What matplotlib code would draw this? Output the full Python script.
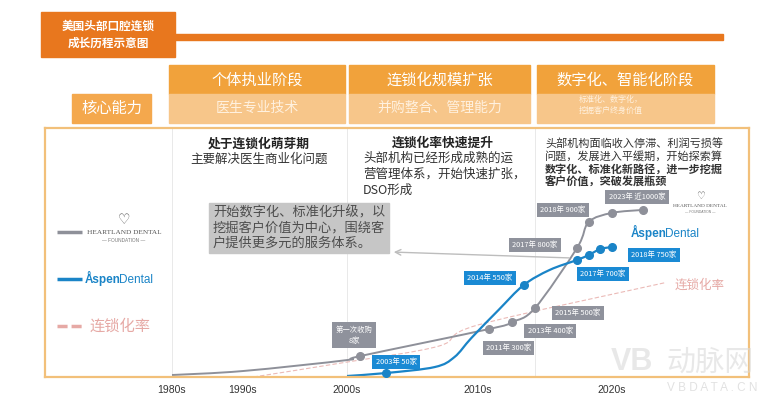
import numpy as np
import matplotlib
matplotlib.use('Agg')
import matplotlib.pyplot as plt
from matplotlib.path import Path
from matplotlib.patches import PathPatch, Rectangle

CJK = ['Noto Sans CJK SC', 'DejaVu Sans']
LATIN = ['Liberation Sans', 'DejaVu Sans']
plt.rcParams['font.family'] = CJK

# ---- data ---------------------------------------------------------------
decades = [1980, 1990, 2000, 2010, 2020]
decade_labels = ['1980s', '1990s', '2000s', '2010s', '2020s']

# the timeline in the picture is schematic: decades are not evenly spaced
scale_years = [1962, 1980, 1990, 2000, 2010, 2015, 2017, 2020, 2023, 2033]
scale_pos = [45, 172, 243, 347, 478, 535, 577, 612, 643, 749]

# Heartland Dental (grey) -- level = schematic height (0-100)
hd_years = [1980, 1990, 2000, 2001, 2011, 2013, 2015, 2017, 2018, 2020, 2023]
hd_level = [0.8, 2.4, 6.8, 8.4, 19.3, 22.1, 27.7, 51.8, 62.2, 65.9, 67.1]
hd_marked = [False, False, False, True, True, True, True, True, True, True, True]
hd_labels = ['', '', '', '第一次收购\n8家', '2011年 300家', '2013年 400家', '2015年 500家',
             '2017年 800家', '2018年 900家', '', '2023年 近1000家']

# Aspen Dental (blue)
ad_years = [2000, 2003, 2006.7, 2008.2, 2009.5, 2011.8, 2014, 2015.7, 2017, 2018, 2019, 2020]
ad_level = [0.4, 1.6, 4.0, 8.0, 15.7, 26.9, 36.9, 43.0, 47.0, 49.0, 51.4, 52.2]
ad_marked = [False, True, False, False, False, False, True, False, True, True, True, True]
ad_labels = ['', '2003年 50家', '', '', '', '', '2014年 550家', '', '2017年 700家',
             '2018年 750家', '', '']

# chain rate (pink dashed)
rate_years = [1991, 2000, 2007, 2010, 2025]
rate_level = [0.0, 6.0, 12.4, 20.9, 37.8]

stages = ['个体执业阶段', '连锁化规模扩张', '数字化、智能化阶段']
abilities = ['医生专业技术', '并购整合、管理能力', '标准化、数字化，\n挖掘客户终身价值']

# label offsets (pixels) for the point boxes
hd_offsets = {3: (-6, 21), 4: (19, -19), 5: (38, -9), 6: (43, -5),
              7: (-42, 3), 8: (-26, 12), 10: (-6, 13)}
ad_offsets = {1: (10, 11), 6: (-34, 7), 8: (26, -14), 9: (65, 0)}

GREY = '#8E9099'
BLUE = '#1A84C7'
PINK = '#E6A9A5'
ORANGE = '#E8771E'
FRAME = '#F2C07A'


def fwd(x):
    return np.interp(x, scale_years, scale_pos)


def inv(p):
    return np.interp(p, scale_pos, scale_years)


def smooth_path(xs, ys):
    # Catmull-Rom through the read points, drawn as bezier curves
    pts = np.column_stack([fwd(np.asarray(xs, float)), np.asarray(ys, float)])
    P = np.vstack([pts[0], pts, pts[-1]])
    verts = [pts[0]]
    codes = [Path.MOVETO]
    for i in range(1, len(P) - 2):
        c1 = P[i] + (P[i + 1] - P[i - 1]) / 6
        c2 = P[i + 1] - (P[i + 2] - P[i]) / 6
        verts += [c1, c2, P[i + 1]]
        codes += [Path.CURVE4] * 3
    verts = np.array(verts)
    verts[:, 0] = inv(verts[:, 0])
    return Path(verts, codes)


def pixel_axes(z):
    a = fig.add_axes([0, 0, 1, 1], zorder=z)
    a.set_xlim(0, 764)
    a.set_ylim(400, 0)
    a.axis('off')
    a.patch.set_alpha(0)
    return a


def aspen_logo(a, x, y):
    a.text(x, y, 'Åspen', fontsize=8.5, color=BLUE, fontweight='bold', ha='right',
           va='baseline', family=LATIN)
    a.text(x - 1.5, y, 'Dental', fontsize=8.5, color=BLUE, ha='left', va='baseline',
           family=LATIN)


fig = plt.figure(figsize=(7.64, 4.0), dpi=100)

# background layer in pixel coordinates
bg = pixel_axes(0)

# title block
bg.add_patch(Rectangle((41, 12), 134, 45, color=ORANGE))
bg.add_patch(Rectangle((175, 34), 548, 6, color=ORANGE))
bg.text(108, 26, '美国头部口腔连锁', color='white', fontsize=8.4, fontweight='bold',
        ha='center', va='center')
bg.text(108, 43, '成长历程示意图', color='white', fontsize=8.4, fontweight='bold',
        ha='center', va='center')

# stage headers
boxes = [(169, 345), (349, 530), (537, 714)]
for (x0, x1), st, ab in zip(boxes, stages, abilities):
    bg.add_patch(Rectangle((x0, 65), x1 - x0, 29, color='#F1A23B'))
    bg.add_patch(Rectangle((x0, 94), x1 - x0, 29, color='#F7C68A'))
    cx = (x0 + x1) / 2
    bg.text(cx, 80, st, color='white', fontsize=11, ha='center', va='center')
    if '\n' in ab:
        bg.text(579, 105, ab, color='#FFF1DF', fontsize=5.8, ha='left', va='center',
                linespacing=1.4)
    else:
        bg.text(cx, 108, ab, color='#FFF1DF', fontsize=10, ha='center', va='center')

bg.add_patch(Rectangle((72, 94), 79, 29, color='#F4A84D'))
bg.text(111.5, 108, '核心能力', color='white', fontsize=11, ha='center', va='center')

# stage descriptions
bg.text(259, 144, '处于连锁化萌芽期', fontsize=9.2, fontweight='bold', color='#222222',
        ha='center', va='center')
bg.text(259, 159, '主要解决医生商业化问题', fontsize=9, color='#333333',
        ha='center', va='center')
bg.text(443, 143, '连锁化率快速提升', fontsize=9.2, fontweight='bold', color='#222222',
        ha='center', va='center')
for i, line in enumerate(['头部机构已经形成成熟的运', '营管理体系，开始快速扩张，', 'DSO形成']):
    bg.text(363, 158 + 16 * i, line, fontsize=9, color='#333333', ha='left', va='center')
right_lines = ['头部机构面临收入停滞、利润亏损等', '问题，发展进入平缓期，开始探索算',
               '数字化、标准化新路径，进一步挖掘', '客户价值，突破发展瓶颈']
for i, line in enumerate(right_lines):
    bg.text(545, 143 + 13 * i, line, fontsize=8, color='#333333', ha='left', va='center',
            fontweight='bold' if i >= 2 else 'normal')

# left legend
bg.plot([57, 82], [232, 232], color=GREY, lw=2.5, solid_capstyle='butt')
bg.text(124, 220, '♡', fontsize=10, color='#555555', ha='center', va='center',
        family='DejaVu Sans')
bg.text(124, 232, 'HEARTLAND DENTAL', fontsize=5.2, color='#555555', ha='center',
        va='center', family=['Liberation Serif', 'DejaVu Serif'])
bg.text(124, 241, '— FOUNDATION —', fontsize=3.4, color='#777777', ha='center',
        va='center', family=LATIN)
bg.plot([57, 82], [279, 279], color=BLUE, lw=2.5, solid_capstyle='butt')
aspen_logo(bg, 121, 283)
bg.plot([57, 82], [326, 326], color=PINK, lw=2.5, linestyle=(0, (2.9, 1.15)))
bg.text(90, 326, '连锁化率', fontsize=11, color=PINK, ha='left', va='center')

# right side logos
bg.text(700, 196, '♡', fontsize=7, color='#555555', ha='center', va='center',
        family='DejaVu Sans')
bg.text(700, 206, 'HEARTLAND DENTAL', fontsize=3.8, color='#555555', ha='center',
        va='center', family=['Liberation Serif', 'DejaVu Serif'])
bg.text(700, 212, '— FOUNDATION —', fontsize=2.4, color='#777777', ha='center',
        va='center', family=LATIN)
aspen_logo(bg, 667, 237)
bg.text(700, 285, '连锁化率', fontsize=9, color=PINK, ha='center', va='center')

# ---- timeline chart ------------------------------------------------------
ax = fig.add_axes([45 / 764, 23 / 400, 704 / 764, 249 / 400], zorder=1)
ax.set_facecolor('none')
ax.set_xscale('function', functions=(fwd, inv))
ax.set_xlim(scale_years[0], scale_years[-1])
ax.set_ylim(0, 100)
for s in ax.spines.values():
    s.set_color(FRAME)
    s.set_linewidth(1.6)
ax.set_yticks([])
ax.set_xticks(decades)
ax.set_xticklabels(decade_labels, fontsize=7.5, color='#333333', family=LATIN)
ax.tick_params(axis='x', length=0, pad=6)
for yr in [1980, 2000, 2015]:
    ax.axvline(yr, color='#E9E9E9', lw=0.7, zorder=0)

ax.add_patch(PathPatch(smooth_path(rate_years, rate_level), fill=False,
                       edgecolor=PINK, lw=0.8, linestyle=(0, (4, 2)), alpha=0.8))
ax.add_patch(PathPatch(smooth_path(hd_years, hd_level), fill=False,
                       edgecolor=GREY, lw=1.4))
ax.add_patch(PathPatch(smooth_path(ad_years, ad_level), fill=False,
                       edgecolor=BLUE, lw=1.6))

hx = [x for x, m in zip(hd_years, hd_marked) if m]
hy = [y for y, m in zip(hd_level, hd_marked) if m]
ax.plot(hx, hy, 'o', color=GREY, ms=5.5, zorder=4)
bx = [x for x, m in zip(ad_years, ad_marked) if m]
by = [y for y, m in zip(ad_level, ad_marked) if m]
ax.plot(bx, by, 'o', color=BLUE, ms=5.5, zorder=4)

for i, (x, y, lab) in enumerate(zip(hd_years, hd_level, hd_labels)):
    if lab:
        ax.annotate(lab, xy=(x, y), xytext=hd_offsets[i], textcoords='offset pixels',
                    ha='center', va='center', fontsize=5.3, color='white',
                    linespacing=1.5,
                    bbox=dict(boxstyle='square,pad=0.45', fc='#8F929C', ec='none'),
                    zorder=5)
for i, (x, y, lab) in enumerate(zip(ad_years, ad_level, ad_labels)):
    if lab:
        ax.annotate(lab, xy=(x, y), xytext=ad_offsets[i], textcoords='offset pixels',
                    ha='center', va='center', fontsize=5.3, color='white',
                    bbox=dict(boxstyle='square,pad=0.45', fc='#1A8AD4', ec='none'),
                    zorder=5)

# ---- overlay: grey callout box and arrow (sits above the stage lines) -----
top = pixel_axes(2)
top.add_patch(Rectangle((209, 203), 180, 50, color='#C6C6C6'))
for i, line in enumerate(['开始数字化、标准化升级，以', '挖掘客户价值为中心，围绕客',
                          '户提供更多元的服务体系。']):
    top.text(213, 213 + 15 * i, line, fontsize=9.5, color='#4D4D4D', ha='left', va='center')
top.annotate('', xy=(391, 252), xytext=(572, 258),
             arrowprops=dict(arrowstyle='->', color='#BDBDBD', lw=1))

# watermark
top.text(632, 362, 'VB', fontsize=22, fontweight='bold', color='#DADADA',
         alpha=0.6, ha='center', va='center', family=LATIN)
top.text(710, 363, '动脉网', fontsize=21, color='#DADADA', alpha=0.6,
         ha='center', va='center')
top.text(712, 388, 'V B D A T A . C N', fontsize=8.5, color='#D5D5D5',
         alpha=0.7, ha='center', va='center', family=LATIN)

fig.savefig('out.png', dpi=100)
